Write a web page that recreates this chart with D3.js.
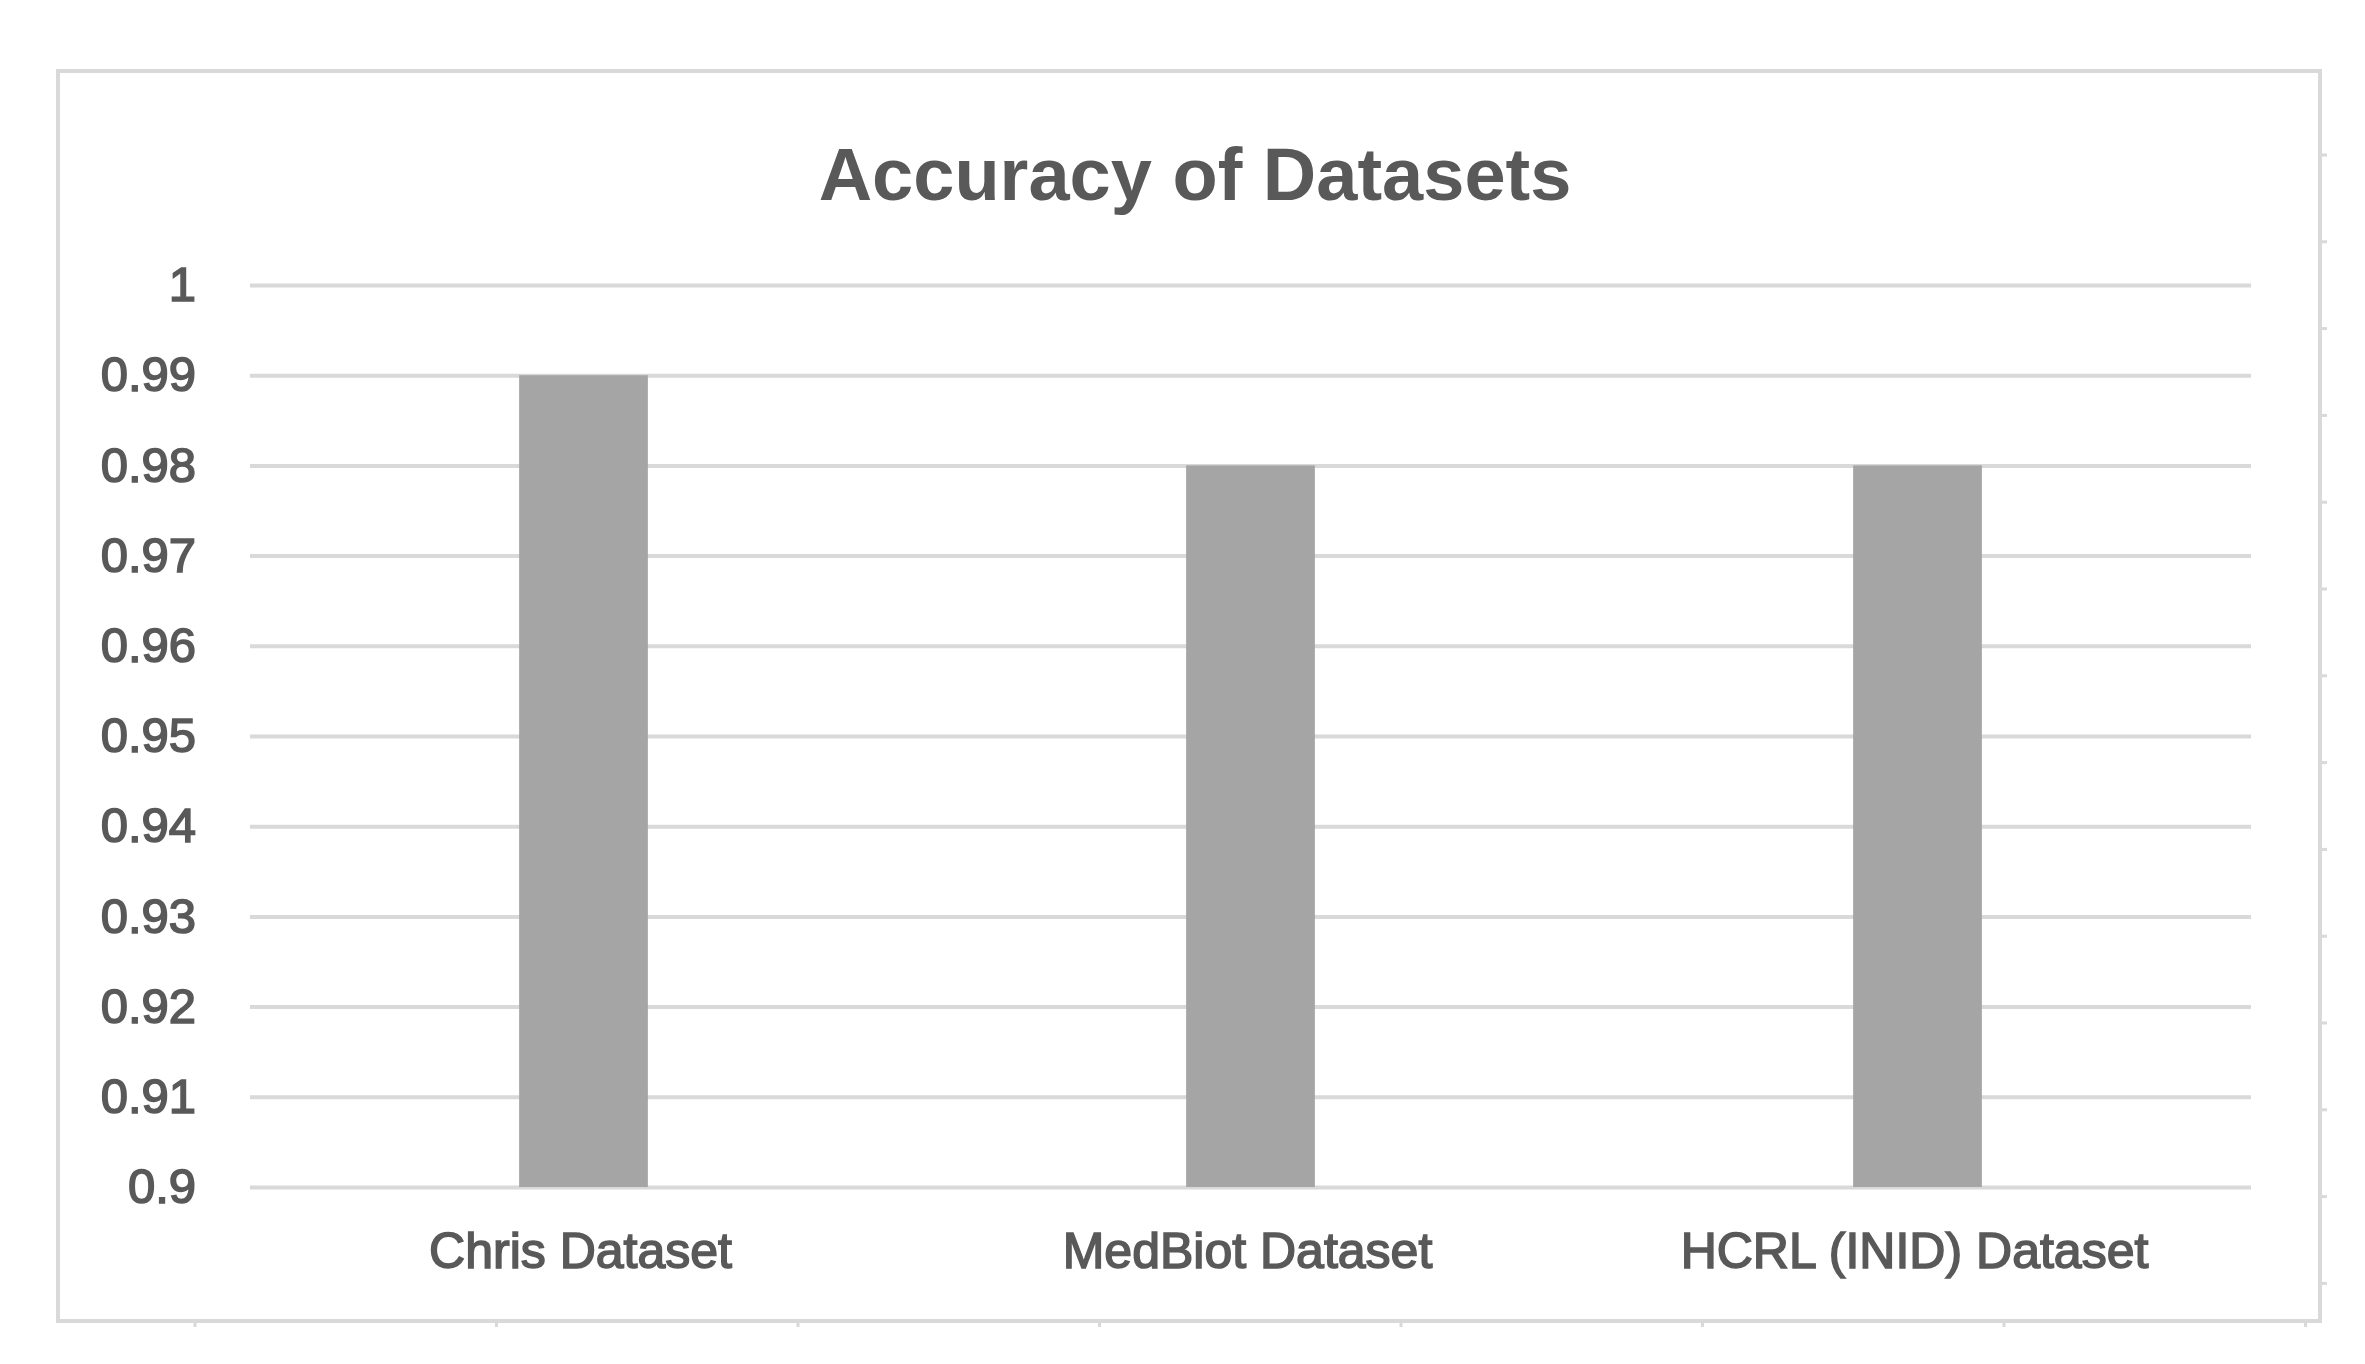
<!DOCTYPE html>
<html>
<head>
<meta charset="utf-8">
<script src="https://cdn.jsdelivr.net/npm/d3@7"></script>
<style>
  html, body { margin: 0; padding: 0; background: #ffffff; }
  svg { display: block; }
  text { font-family: "Liberation Sans", Arial, sans-serif; fill: #595959; }
</style>
</head>
<body>
<svg id="chart" width="2365" height="1364"></svg>
<script>
const titleText = "Accuracy of Datasets";
const categories = ["Chris Dataset", "MedBiot Dataset", "HCRL (INID) Dataset"];
const accuracy = [0.99, 0.98, 0.98];
const yTicks = [0.9, 0.91, 0.92, 0.93, 0.94, 0.95, 0.96, 0.97, 0.98, 0.99, 1];
const yTickLabels = ["0.9", "0.91", "0.92", "0.93", "0.94", "0.95", "0.96", "0.97", "0.98", "0.99", "1"];

const svg = d3.select("#chart");

// chart frame
const frame = { x0: 58, y0: 71, x1: 2320, y1: 1321 };
const plot = { left: 250, right: 2251, top: 285, bottom: 1187 };

// faint worksheet cell marks outside the chart frame
const deco = svg.append("g").attr("stroke", "#d9d9d9").attr("stroke-width", 3);
d3.range(195, 2320, 301.5).forEach(xx => {
  deco.append("line").attr("x1", xx).attr("x2", xx).attr("y1", frame.y1).attr("y2", frame.y1 + 6);
});
d3.range(155, 1321, 86.8).forEach(yy => {
  deco.append("line").attr("x1", frame.x1).attr("x2", frame.x1 + 7).attr("y1", yy).attr("y2", yy);
});

svg.append("rect")
  .attr("x", frame.x0).attr("y", frame.y0)
  .attr("width", frame.x1 - frame.x0).attr("height", frame.y1 - frame.y0)
  .attr("fill", "#ffffff").attr("stroke", "#d9d9d9").attr("stroke-width", 4);

const x = d3.scaleBand()
  .domain(categories)
  .range([plot.left, plot.right])
  .paddingInner(0.807)
  .paddingOuter(0.4035);

const y = d3.scaleLinear()
  .domain([0.9, 1])
  .range([plot.bottom, plot.top]);

// y axis with gridlines
const yAxis = d3.axisLeft(y)
  .tickValues(yTicks)
  .tickFormat((d, i) => yTickLabels[i])
  .tickSizeInner(-(plot.right - plot.left))
  .tickSizeOuter(0)
  .tickPadding(54);

const gy = svg.append("g")
  .attr("transform", `translate(${plot.left},0)`)
  .call(yAxis);
gy.select(".domain").remove();
gy.selectAll(".tick line").attr("stroke", "#d9d9d9").attr("stroke-width", 4);
gy.selectAll(".tick text")
  .style("font-family", "'Liberation Sans', Arial, sans-serif")
  .style("font-size", "49px")
  .attr("fill", "#595959")
  .attr("stroke", "#595959")
  .attr("stroke-width", 1.6);

// bars
svg.append("g").selectAll("rect")
  .data(categories)
  .join("rect")
  .attr("x", d => x(d))
  .attr("width", x.bandwidth())
  .attr("y", (d, i) => y(accuracy[i]))
  .attr("height", (d, i) => y(0.9) - y(accuracy[i]))
  .attr("fill", "#a5a5a5");

// x axis labels
const xAxis = d3.axisBottom(x).tickSize(0).tickPadding(45);
const gx = svg.append("g")
  .attr("transform", `translate(-3,${plot.bottom})`)
  .call(xAxis);
gx.select(".domain").remove();
gx.selectAll(".tick text")
  .style("font-family", "'Liberation Sans', Arial, sans-serif")
  .style("font-size", "50px")
  .attr("fill", "#595959")
  .attr("stroke", "#595959")
  .attr("stroke-width", 1.6);

// title
svg.append("text")
  .attr("x", 1195)
  .attr("y", 200)
  .attr("text-anchor", "middle")
  .style("font-family", "'Liberation Sans', Arial, sans-serif")
  .style("font-size", "74px")
  .style("font-weight", "bold")
  .attr("fill", "#595959")
  .text(titleText);
</script>
</body>
</html>
